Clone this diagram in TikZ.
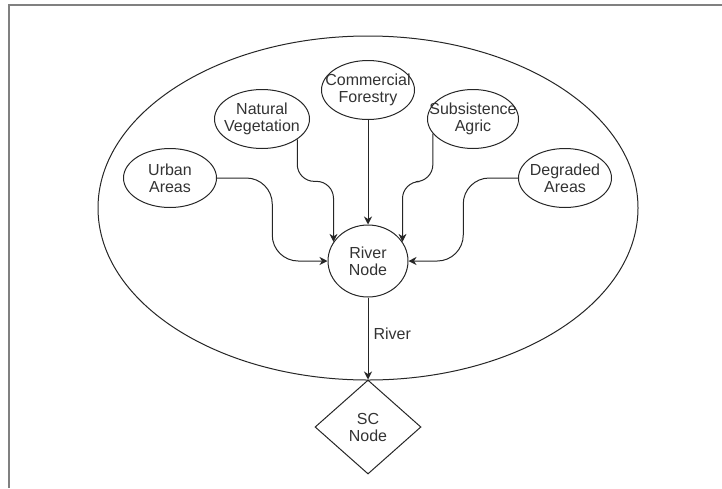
\documentclass[tikz,border=0pt]{standalone}
\usepackage{fontspec}
\setmainfont{Liberation Sans}
\usetikzlibrary{shapes.geometric,arrows.meta,calc}
\begin{document}
\begin{tikzpicture}[x=1pt,y=-1pt,
  line/.style={draw=black!85, line width=1pt},
  lbl/.style={align=center, text=black!80, font=\fontsize{16pt}{17pt}\selectfont, inner sep=0pt},
  blob/.style={ellipse, line, inner sep=0pt, minimum width=93pt, minimum height=59pt},
  arr/.style={line, -{Stealth[length=8pt,width=8pt,inset=2.5pt]}},
]
\useasboundingbox (0,0) rectangle (722,488);
\draw[draw=black!50, line width=2pt] (9,488) -- (9,4.5) -- (722,4.5);
\node[ellipse, line, minimum width=540pt, minimum height=344pt] (area) at (368,208) {};
\node[blob, label={[lbl]center:{Commercial\\Forestry}}] (CF) at (368,90) {};
\node[blob, minimum width=95pt, label={[lbl]center:{Natural\\Vegetation}}] (NV) at (262,119) {};
\node[blob, minimum width=91pt, label={[lbl]center:{Subsistence\\Agric}}] (SA) at (473,119) {};
\node[blob, label={[lbl]center:{Urban\\Areas}}] (UA) at (170,178) {};
\node[blob, label={[lbl]center:{Degraded\\Areas}}] (DA) at (565,178) {};
\node[ellipse, line, inner sep=0pt, minimum width=80pt, minimum height=72pt, label={[lbl]center:{River\\Node}}] (RN) at (368,261) {};
\node[diamond, line, inner sep=0pt, minimum width=106pt, minimum height=94pt, label={[lbl]center:{SC\\Node}}] (SC) at (368,427) {};

\coordinate (uam) at ($(UA.east)!0.5!(RN.west)$);
\coordinate (dam) at ($(DA.west)!0.5!(RN.east)$);

\draw[arr] (CF) -- (RN);
\draw[arr, rounded corners=17pt] (NV.-30) -- ++(0,42) -| (RN.151);
\draw[arr, rounded corners=17pt] (SA.-160) -- ++(0,48) -| (RN.29);
\draw[arr, rounded corners=26pt] (UA.east) -| (uam |- RN.west) -- (RN.west);
\draw[arr, rounded corners=26pt] (DA.west) -| (dam |- RN.east) -- (RN.east);
\draw[arr] (RN) -- node[lbl, right=5pt, pos=0.44] (rl) {River} (SC);
\end{tikzpicture}
\end{document}
